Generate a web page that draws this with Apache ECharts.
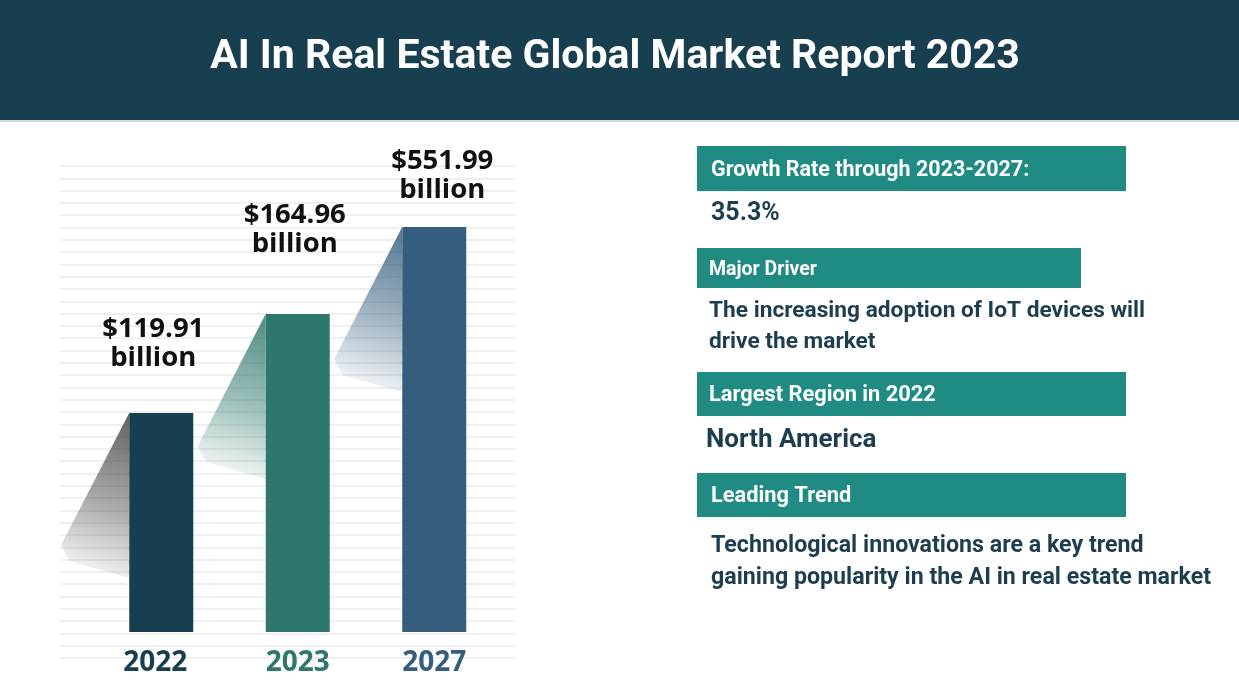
<!DOCTYPE html>
<html>
<head>
<meta charset="utf-8">
<script src="https://cdn.jsdelivr.net/npm/echarts@6/dist/echarts.min.js"></script>
<style>
html,body{margin:0;padding:0;background:#fff;}
#main{width:1239px;height:697px;}
</style>
</head>
<body>
<div id="main"></div>
<script>
// ---- data ----
const titleText = 'AI In Real Estate Global Market Report 2023';
const years = ['2022', '2023', '2027'];
const marketValues = [119.91, 164.96, 551.99];      // USD billion (labels)
const drawnBarHeights = [219, 318, 405];              // bar heights as drawn in the picture (not to scale)
const barColors = ['#173f4f', '#2e776c', '#355e7e'];
const shadowColors = ['rgba(70,70,70,', 'rgba(46,119,108,', 'rgba(53,94,126,'];
const infoHeaders = ['Growth Rate through 2023-2027:', 'Major Driver', 'Largest Region in 2022', 'Leading Trend'];
const infoTexts = ['35.3%', 'The increasing adoption of IoT devices will\ndrive the market', 'North America', 'Technological innovations are a key trend\ngaining popularity in the AI in real estate market'];

const labelDist = [40, 55, 22];
const labelDx = [-8, -3, 8];
const yearPad = [[0,12,0,0], [0,0,0,0], [0,0,0,0]];

const chart = echarts.init(document.getElementById('main'));

const teal = '#1f8b82';
const dark = '#1c3e4e';

const graphics = [
  {type:'rect', shape:{x:0,y:0,width:1239,height:120}, style:{fill:'#173f4f'}, z:0},
  {type:'rect', shape:{x:0,y:120,width:1239,height:2}, style:{fill:'#d3d8da'}, z:0},
  {type:'text', x:615, y:58, style:{text:titleText, fill:'#fff', font:'bold 41px Roboto', textAlign:'center', textVerticalAlign:'middle'}, z:5},
  // info boxes
  {type:'rect', shape:{x:697,y:146,width:429,height:45}, style:{fill:teal}},
  {type:'text', x:711, y:171, style:{text:infoHeaders[0], fill:'#fff', font:'bold 21.5px Roboto', textVerticalAlign:'middle'}},
  {type:'text', x:711, y:214, style:{text:infoTexts[0], fill:dark, font:'bold 25px Roboto', textVerticalAlign:'middle'}},
  {type:'rect', shape:{x:697,y:248,width:384,height:40}, style:{fill:teal}},
  {type:'text', x:709, y:270, style:{text:infoHeaders[1], fill:'#fff', font:'bold 19.5px Roboto', textVerticalAlign:'middle'}},
  {type:'text', x:709, y:296, style:{text:infoTexts[1], fill:dark, font:'bold 22.7px Roboto', lineHeight:31}},
  {type:'rect', shape:{x:697,y:372,width:429,height:44}, style:{fill:teal}},
  {type:'text', x:709, y:396, style:{text:infoHeaders[2], fill:'#fff', font:'bold 21.8px Roboto', textVerticalAlign:'middle'}},
  {type:'text', x:706, y:440, style:{text:infoTexts[2], fill:dark, font:'bold 26px Roboto', textVerticalAlign:'middle'}},
  {type:'rect', shape:{x:697,y:473,width:429,height:44}, style:{fill:teal}},
  {type:'text', x:711, y:497, style:{text:infoHeaders[3], fill:'#fff', font:'bold 21.8px Roboto', textVerticalAlign:'middle'}},
  {type:'text', x:711, y:530, style:{text:infoTexts[3], fill:dark, font:'bold 23.2px Roboto', lineHeight:32}}
];

const option = {
  backgroundColor:'#fff',
  animation:false,
  graphic: graphics,
  grid:[
    {left:60, right:724, top:166, bottom:39},
    {left:93, width:409.5, top:132, bottom:65}
  ],
  xAxis:[
    {gridIndex:0, type:'value', show:false, min:0, max:1},
    {gridIndex:1, type:'category', data: years.map((y,i)=>({value:y, textStyle:{color:barColors[i], padding:yearPad[i]}})),
     axisLine:{show:false}, axisTick:{show:false},
     axisLabel:{fontFamily:'Open Sans', fontWeight:'bold', fontSize:28, margin:17}}
  ],
  yAxis:[
    {gridIndex:0, type:'value', min:0, max:40, interval:1, axisLabel:{show:false}, axisLine:{show:false}, axisTick:{show:false},
     splitLine:{show:true, lineStyle:{color:'#ebebeb', width:1.5}}},
    {gridIndex:1, type:'value', min:0, max:500, show:false, splitLine:{show:false}}
  ],
  series:[
    {
      type:'custom', xAxisIndex:1, yAxisIndex:1, z:1, clip:false,
      data: drawnBarHeights.map((h,i)=>[i,h]),
      renderItem:function(params, api){
        const i = api.value(0);
        const top = api.coord([i, api.value(1)]);
        const w = api.size([1,0])[0]*0.47;
        const left = top[0]-w/2;
        const c = shadowColors[i];
        return {
          type:'polygon',
          shape:{points:[[left, top[1]], [left-68, top[1]+132], [left-60, top[1]+148], [left, top[1]+165]]},
          style:{fill:new echarts.graphic.LinearGradient(1,0,0.2,1,[
            {offset:0, color:c+'0.85)'},
            {offset:0.55, color:c+'0.45)'},
            {offset:1, color:c+'0)'}
          ])}
        };
      }
    },
    {
      type:'bar', xAxisIndex:1, yAxisIndex:1, z:3, barWidth:64,
      data: drawnBarHeights.map((h,i)=>({
        value:h,
        itemStyle:{color:barColors[i]},
        label:{show:true, position:'top', distance:labelDist[i], offset:[labelDx[i],0],
          formatter:'$'+marketValues[i].toFixed(2)+'\nbillion'}
      })),
      label:{color:'#111', fontFamily:'Open Sans', fontWeight:'bold', fontSize:27.5, lineHeight:29}
    }
  ]
};
chart.setOption(option);
</script>
</body>
</html>
